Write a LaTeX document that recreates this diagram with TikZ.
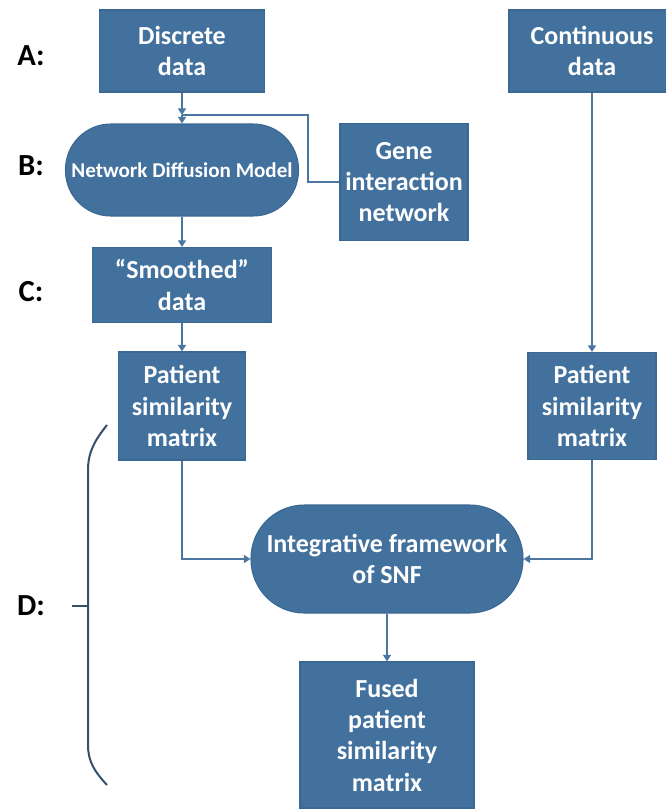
\documentclass[tikz,border=0pt]{standalone}
\usepackage{fontspec}
\setmainfont{Carlito}
\usetikzlibrary{arrows.meta}
\definecolor{boxblue}{HTML}{43719E}
\definecolor{boxedge}{HTML}{3B6893}
\definecolor{linkblue}{HTML}{4A76A0}
\definecolor{bracegray}{HTML}{34506B}

\begin{document}
\begin{tikzpicture}[>={Triangle[length=5pt,width=6pt]},x=0.75pt,y=-0.75pt,
    box/.style={fill=boxblue,draw=boxedge,line width=0.8pt,text=white,
      font=\bfseries\fontsize{19.5}{23.5}\selectfont,align=center,inner sep=0pt},
    pill/.style={box,rounded corners=#1},
    sz/.style 2 args={minimum width=#1*0.75pt,minimum height=#2*0.75pt},
    link/.style={draw=linkblue,line width=1.4pt},
    tag/.style={font=\bfseries\fontsize{23}{26}\selectfont,text=black}]

  \useasboundingbox (0,0) rectangle (666,810);

  % ---- row tags ----
  \node[tag] (tagA) at (31,56) {A:};
  \node[tag] (tagB) at (31,166) {B:};
  \node[tag] (tagC) at (31,292) {C:};
  \node[tag] (tagD) at (31,606) {D:};

  % ---- left branch ----
  \node[box,sz={165}{82}] (discrete) at (182,51) {Discrete\\data};
  \node[pill=34pt,sz={233}{92},font=\bfseries\fontsize{15.8}{18}\selectfont]
        (diffusion) at (182,170) {Network Diffusion Model};
  \node[box,sz={128}{117}] (gene) at (404,182) {Gene\\interaction\\network};
  \node[box,sz={179}{75}] (smoothed) at (182,285) {“Smoothed”\\data};
  \node[box,sz={127}{108}] (simleft) at (182,406) {Patient\\similarity\\matrix};

  % ---- right branch (cut by the page edge) ----
  \node[box,sz={166}{82}] (continuous) at (592,51) {Continuous\\data};
  \node[box,sz={128}{107}] (simright) at (592,406) {Patient\\similarity\\matrix};

  % ---- fusion ----
  \node[pill=40pt,sz={272}{108}] (snf) at (387,559) {Integrative framework\\of SNF};
  \node[box,sz={174}{146}] (fused) at (387,735) {Fused\\patient\\similarity\\matrix};

  % ---- connectors ----
  \coordinate (join) at (182,115);
  \coordinate (bend) at (308,115);
  \draw[link,->] (discrete) -- (join);
  \draw[link] (gene) -| (bend) -- (join);
  \draw[link,->] (join) -- (diffusion);
  \draw[link,->] (diffusion) -- (smoothed);
  \draw[link,->] (smoothed) -- (simleft);
  \draw[link,->] (continuous) -- (simright);
  \draw[link,->] (simleft) |- (snf);
  \draw[link,->] (simright) |- (snf);
  \draw[link,->] (snf) -- (fused);

  % ---- brace for D ----
  \draw[bracegray,line width=1.5pt]
        (107,425) .. controls (95,440) and (88,452) .. (88,470)
        -- (88,745) .. controls (88,762) and (95,772) .. (107,785);
  \draw[bracegray,line width=1.5pt] (72,606) -- (88,606);

\end{tikzpicture}
\end{document}
